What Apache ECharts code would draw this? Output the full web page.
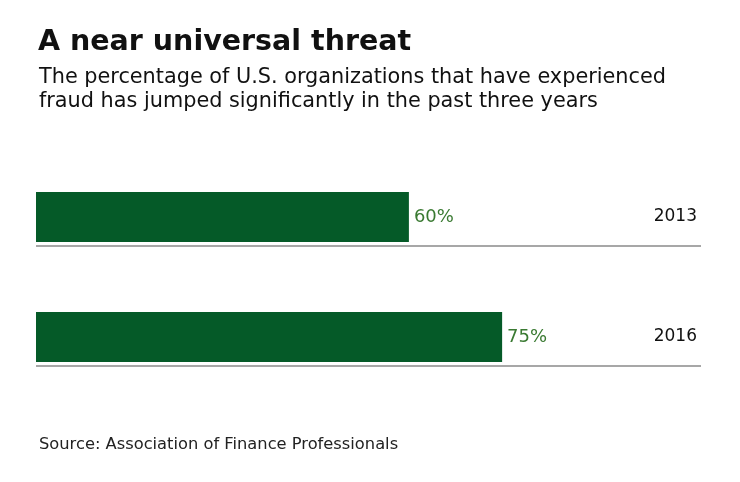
<!DOCTYPE html>
<html>
<head>
<meta charset="utf-8">
<script src="https://cdn.jsdelivr.net/npm/echarts@6/dist/echarts.min.js"></script>
<style>
  html, body { margin: 0; padding: 0; background: #fff; }
  #main { width: 740px; height: 482px; }
</style>
</head>
<body>
<div id="main"></div>
<script>
// data
var years = ['2013', '2016']
var shares = [60, 75]

var green = '#055a28'
var font = 'DejaVu Sans'
var myChart = echarts.init(document.querySelector('#main'))

var option = {
    animation: false,
    textStyle: { fontFamily: font },
    title: [
        {
            text: 'A near universal threat',
            left: 33, top: 23,
            textStyle: { fontSize: 28.5, fontWeight: 'bold', color: '#111', fontFamily: font }
        },
        {
            text: 'The percentage of U.S. organizations that have experienced\nfraud has jumped significantly in the past three years',
            left: 34, top: 61,
            textStyle: { fontSize: 20.8, fontWeight: 'normal', color: '#111', lineHeight: 24, fontFamily: font }
        },
        {
            text: 'Source: Association of Finance Professionals',
            left: 34, top: 432,
            textStyle: { fontSize: 16.3, fontWeight: 'normal', color: '#222', fontFamily: font }
        }
    ],
    grid: { left: 36, right: 39, top: 157, height: 240 },
    xAxis: {
        type: 'value', min: 0, max: 107,
        show: false
    },
    yAxis: {
        type: 'category',
        data: years,
        inverse: true,
        position: 'right',
        axisLine: { show: false },
        axisTick: { show: false },
        splitLine: { show: false },
        axisLabel: {
            inside: true, margin: 4,
            fontSize: 17, color: '#111', fontFamily: font
        }
    },
    series: [
        {
            type: 'bar',
            data: shares,
            barWidth: 50,
            itemStyle: { color: green },
            label: {
                show: true, position: 'right', distance: 5,
                formatter: '{c}%',
                fontSize: 18, color: '#3a7a32', fontFamily: font
            }
        }
    ]
}

myChart.setOption(option)

// thin grey rule under each bar
var lines = years.map(function(y) {
    var cy = myChart.convertToPixel({ yAxisIndex: 0 }, y)
    var x0 = myChart.convertToPixel({ xAxisIndex: 0 }, 0)
    var x1 = myChart.convertToPixel({ xAxisIndex: 0 }, 107)
    return {
        type: 'line',
        shape: { x1: x0, y1: cy + 29, x2: x1, y2: cy + 29 },
        style: { stroke: '#8a8a8a', lineWidth: 1.5 }
    }
})
myChart.setOption({ graphic: lines })
</script>
</body>
</html>
